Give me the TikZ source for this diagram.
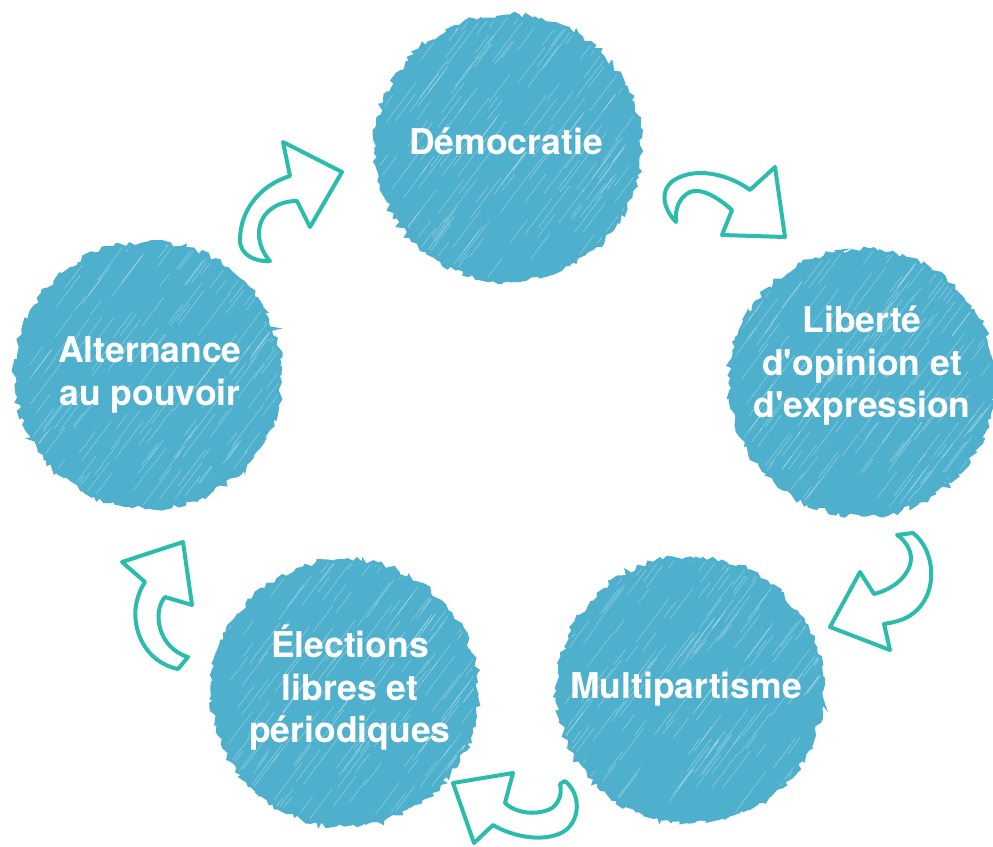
\documentclass[tikz,border=0pt]{standalone}
\usepackage{fontspec}
\setmainfont{TeX Gyre Heros}
\usetikzlibrary{decorations.pathmorphing}
\definecolor{scribble}{RGB}{78,176,204}
\definecolor{curlteal}{RGB}{44,188,172}
\tikzset{
  bubble/.style={circle, minimum size=264pt, inner sep=0pt, fill=scribble, draw=scribble, line width=3pt,
    decorate, decoration={random steps, segment length=4pt, amplitude=3pt},
    path picture={\foreach \k in {1,...,170}{
      \pgfmathsetmacro\dx{rand*130}\pgfmathsetmacro\dy{rand*130}\pgfmathsetmacro\len{15+40*rnd}
      \draw[white, opacity=0.35, line width=0.6pt] ([shift={(\dx,\dy)}]path picture bounding box.center) -- ++(0.6*\len,-0.8*\len);}}},
  caption/.style={text=white, align=center, inner sep=0pt, font={\fontsize{35.5}{42.5}\selectfont\bfseries}},
  curl/.style={draw=curlteal, line width=4pt, line join=round, fill=white}
}
\begin{document}
\begin{tikzpicture}[x=1pt, y=-1pt]
\pgfmathsetseed{3}
\useasboundingbox (0,0) rectangle (993,846);
% the five ideas
\node (demo) [bubble] at (508,148) {};
\node (lib) [bubble] at (862,383) {};
\node (multi) [bubble] at (690,690) {};
\node (elec) [bubble] at (345,693) {};
\node (alt) [bubble] at (148,375) {};

\node (demotext) [caption] at (506,141) {Démocratie};
\node (libtext) [caption] at (862,366) {Liberté\\d\textquotesingle opinion et\\d\textquotesingle expression};
\node (multitext) [caption] at (686,689) {Multipartisme};
\node (electext) [caption] at (350,688) {Élections\\libres et\\périodiques};
\node (alttext) [caption] at (150,375) {Alternance\\au pouvoir};

% curly arrows, clockwise
\draw[curl] (342,172) -- (283,142) -- (290,176) .. controls (258,186) and (240,212) .. (240,240)
  .. controls (240,255) and (255,262) .. (270,261) .. controls (258,248) and (255,228) .. (265,215)
  .. controls (273,205) and (285,201) .. (297,201) -- (310,227) -- cycle;
\draw[curl] (676,222) .. controls (660,205) and (660,185) .. (680,177) .. controls (700,168) and (730,175) .. (750,190)
  -- (775,167) -- (785,237) -- (722,235) -- (732,210) .. controls (715,195) and (700,188) .. (690,192)
  .. controls (678,198) and (675,210) .. cycle;
\draw[curl] (897,535) -- (913,533) .. controls (935,550) and (938,590) .. (917,610)
  .. controls (907,620) and (895,622) .. (884,624) -- (890,650) -- (830,627) -- (860,572) -- (874,594)
  .. controls (890,590) and (905,580) .. (910,565) .. controls (914,552) and (905,540) .. cycle;
\draw[curl] (565,781) .. controls (582,795) and (580,822) .. (563,832) .. controls (545,842) and (515,838) .. (493,825)
  -- (474,843) -- (453,783) -- (513,773) -- (505,803) .. controls (518,815) and (540,815) .. (552,808)
  .. controls (560,802) and (562,792) .. (560,784) -- cycle;
\draw[curl] (178,669) .. controls (145,662) and (132,630) .. (136,605) .. controls (138,595) and (141,588) .. (145,582)
  -- (122,562) -- (183,542) -- (192,605) -- (165,597) .. controls (152,612) and (158,648) .. (188,657) -- cycle;
\end{tikzpicture}
\end{document}
